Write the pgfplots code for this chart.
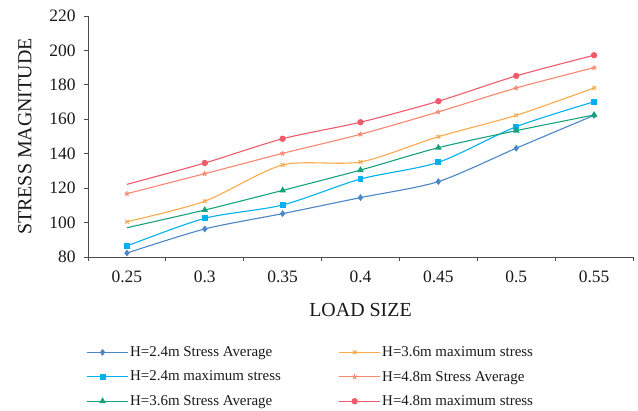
\documentclass[border=0pt]{standalone}
\usepackage{fontspec}
\setmainfont{Liberation Serif}
\usepackage{pgfplots}
\pgfplotsset{compat=1.18}
\definecolor{cA}{HTML}{4A86C8}
\definecolor{cB}{HTML}{00B0F0}
\definecolor{cC}{HTML}{16A37A}
\definecolor{cD}{HTML}{FBA94A}
\definecolor{cE}{HTML}{F7876F}
\definecolor{cF}{HTML}{F05A6A}
\begin{document}
\begin{tikzpicture}
\path[use as bounding box] (-88bp,-154bp) rectangle (550bp,257bp);
\begin{axis}[
  scale only axis, width=545bp, height=241bp,
  at={(0,0)}, anchor=south west,
  xmin=-0.5, xmax=6.5, ymin=80, ymax=220,
  xtick={0,...,6}, xticklabels={0.25,0.3,0.35,0.4,0.45,0.5,0.55},
  major x tick style={draw=none},
  minor xtick={-0.5,0.5,...,6.5},
  ytick={80,100,...,220},
  axis x line*=bottom, axis y line*=left,
  axis line style={black!70, line width=0.8bp},
  every tick/.style={black!70, line width=0.8bp},
  tick align=outside, major tick length=4bp, minor tick length=4bp,
  /pgf/number format/assume math mode=true,
  tick label style={font=\fontsize{17.5}{20}\selectfont, text=black!90},
  xticklabel style={yshift=-6bp},
  yticklabel style={xshift=-5bp},
  xlabel={LOAD SIZE}, ylabel={STRESS MAGNITUDE},
  label style={font=\fontsize{20}{23}\selectfont, text=black!90},
  xlabel style={at={(axis description cs:0.5,-0.22)}, anchor=center},
  ylabel style={at={(axis description cs:-0.1156,0.5)}, anchor=center},
  legend columns=2,
  legend cell align=left,
  legend style={at={(axis description cs:-0.004,-0.363)}, anchor=north west, draw=none, fill=none,
    font=\fontsize{15}{17}\selectfont, row sep=9bp, column sep=0pt, inner sep=0pt,
    nodes={inner sep=2bp, text=black!90}},
  legend image code/.code={\path (0bp,0bp) -- (41bp,0bp); \draw[mark indices={2}] plot coordinates {(0bp,0bp) (16bp,0bp) (32bp,0bp)};},
  every axis plot/.append style={line width=1.1bp, smooth, tension=0.45},
]
\addplot[cA, mark=diamond*, mark size=2.6bp, mark options={solid}] coordinates {(0,82.3) (1,96.3) (2,105.2) (3,114.5) (4,123.8) (5,143.2) (6,162.3)};
\addlegendentry{\makebox[206bp][l]{H=2.4m Stress Average}}
\addplot[cD, mark=x, mark size=2.6bp] coordinates {(0,100.5) (1,112.4) (2,133.5) (3,135.2) (4,149.9) (5,162.3) (6,178.2)};
\addlegendentry{H=3.6m maximum stress}
\addplot[cB, mark=square*, mark size=2.4bp] coordinates {(0,86.4) (1,102.5) (2,110.2) (3,125.3) (4,135.0) (5,155.7) (6,170.2)};
\addlegendentry{\makebox[206bp][l]{H=2.4m maximum stress}}
\addplot[cE, mark=star, mark size=2.6bp] coordinates {(0,116.8) (1,128.4) (2,140.2) (3,151.3) (4,164.3) (5,178.2) (6,190.0)};
\addlegendentry{H=4.8m Stress Average}
\addplot[cC, mark=triangle*, mark size=2.8bp, mark indices={2,...,7}] coordinates {(0,97.0) (1,107.3) (2,118.7) (3,130.5) (4,143.5) (5,153.4) (6,162.5)};
\addlegendentry{\makebox[206bp][l]{H=3.6m Stress Average}}
\addplot[cF, mark=*, mark size=2.6bp, mark indices={2,...,7}] coordinates {(0,122.2) (1,134.6) (2,148.7) (3,158.3) (4,170.5) (5,185.2) (6,197.2)};
\addlegendentry{H=4.8m maximum stress}
\end{axis}
\end{tikzpicture}
\end{document}
